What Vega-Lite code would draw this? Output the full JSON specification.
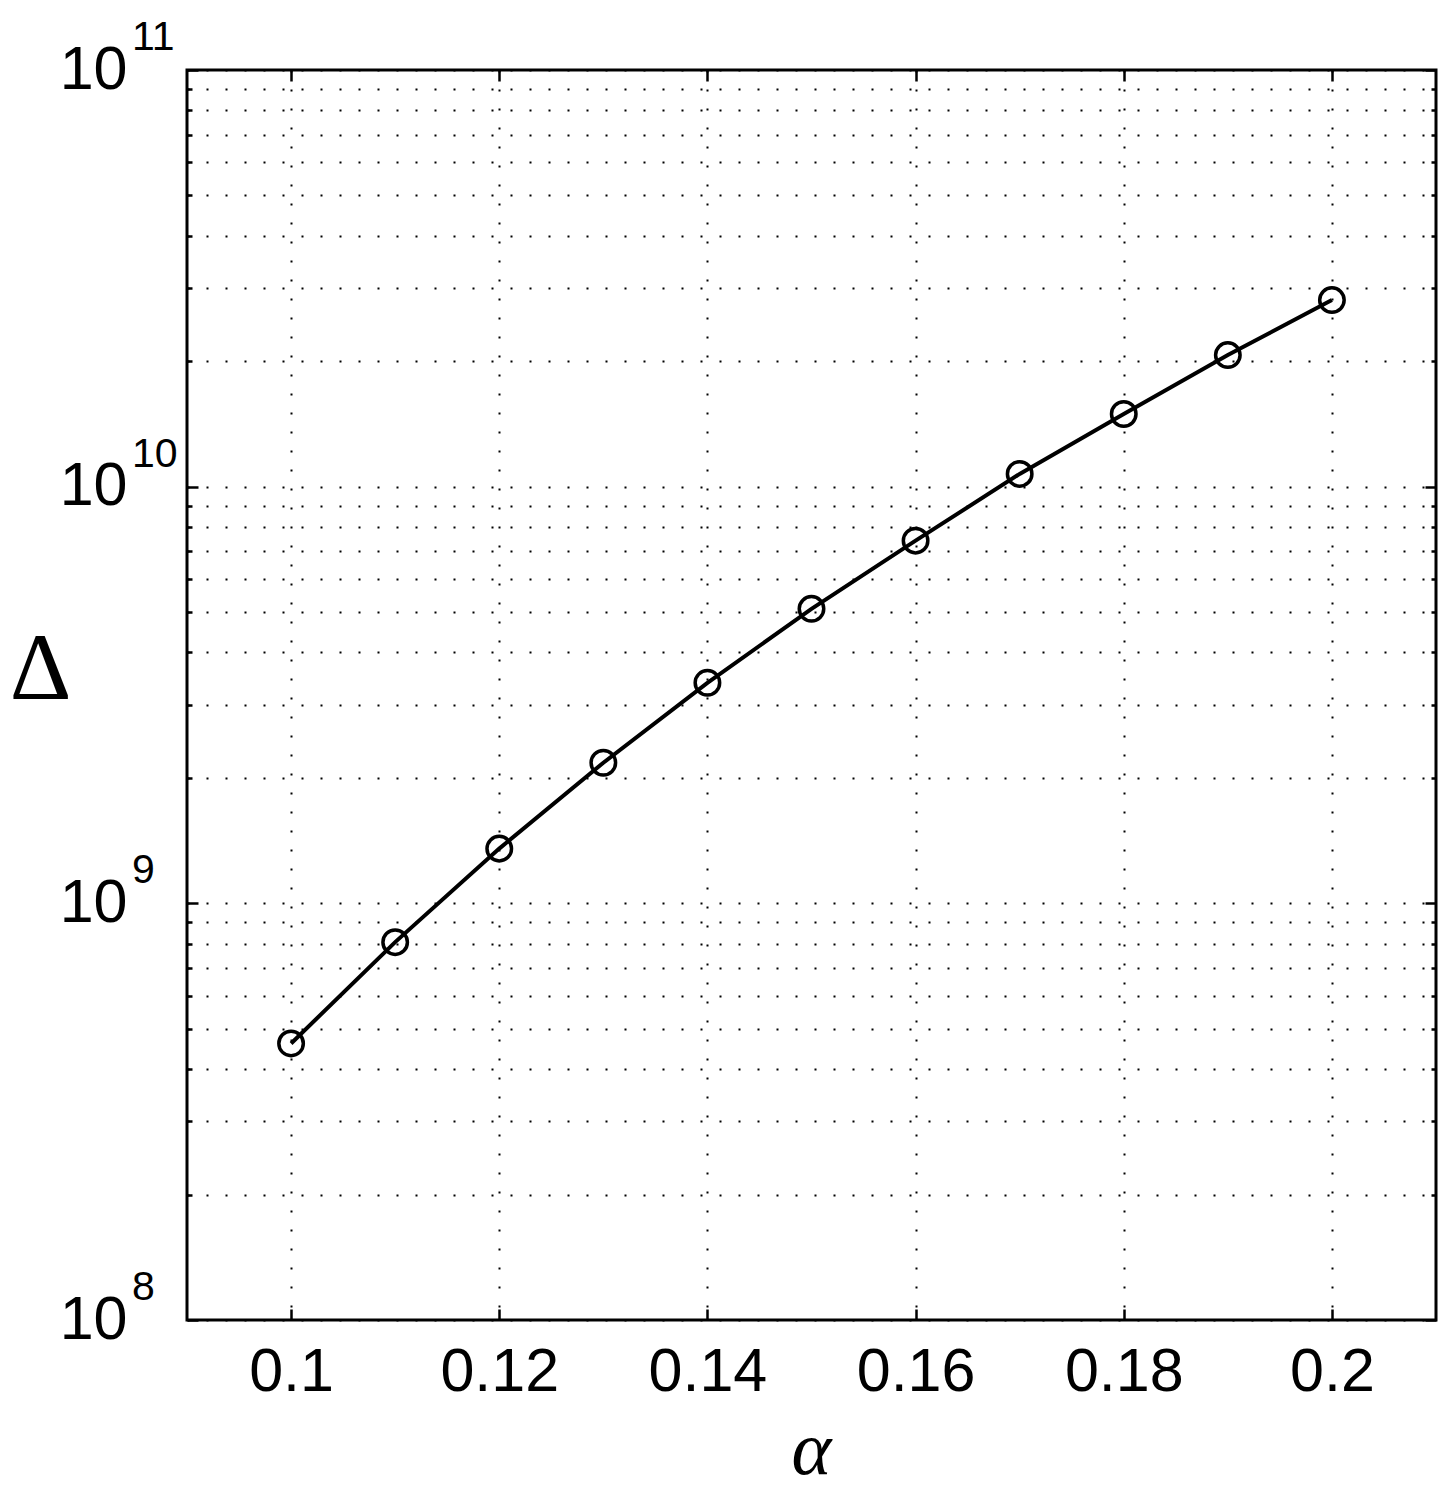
{
  "$schema": "https://vega.github.io/schema/vega-lite/v6.json",
  "autosize": "none",
  "width": 1249,
  "height": 1250,
  "padding": {"left": 187, "top": 70, "right": 18, "bottom": 188},
  "background": "white",
  "config": {
    "view": {"stroke": "#000", "strokeWidth": 3},
    "axis": {
      "labelFont": "Liberation Sans",
      "labelFontSize": 61,
      "labelColor": "#000",
      "tickColor": "#000",
      "tickWidth": 2.5,
      "domain": false,
      "gridColor": "#000",
      "gridWidth": 2,
      "gridDash": [2, 17],
      "gridOpacity": 1
    }
  },
  "datasets": {
    "main": [
      {"alpha": 0.10, "delta": 4.61e8},
      {"alpha": 0.11, "delta": 8.07e8},
      {"alpha": 0.12, "delta": 1.353e9},
      {"alpha": 0.13, "delta": 2.175e9},
      {"alpha": 0.14, "delta": 3.383e9},
      {"alpha": 0.15, "delta": 5.09e9},
      {"alpha": 0.16, "delta": 7.42e9},
      {"alpha": 0.17, "delta": 1.073e10},
      {"alpha": 0.18, "delta": 1.494e10},
      {"alpha": 0.19, "delta": 2.069e10},
      {"alpha": 0.20, "delta": 2.804e10}
    ],
    "exps": [
      {"p": 1e8, "e": "8"},
      {"p": 1e9, "e": "9"},
      {"p": 1e10, "e": "10"},
      {"p": 1e11, "e": "11"}
    ]
  },
  "resolve": {"axis": {"x": "independent", "y": "independent"}},
  "layer": [
    {
      "data": {"name": "main"},
      "mark": {"type": "line", "color": "#000", "strokeWidth": 4},
      "encoding": {
        "x": {
          "field": "alpha", "type": "quantitative",
          "scale": {"domain": [0.09, 0.21], "nice": false, "zero": false},
          "axis": {
            "orient": "bottom",
            "values": [0.1, 0.12, 0.14, 0.16, 0.18, 0.2],
            "labelExpr": "format(datum.value, '.2~f')",
            "grid": true,
            "tickSize": -11,
            "labelPadding": 33,
            "title": "α",
            "titleFont": "Liberation Serif",
            "titleFontStyle": "italic",
            "titleFontWeight": "normal",
            "titleFontSize": 76,
            "titleColor": "#000",
            "titleX": 624,
            "titleY": 153,
            "titleBaseline": "alphabetic",
            "titleAlign": "center"
          }
        },
        "y": {
          "field": "delta", "type": "quantitative",
          "scale": {"type": "log", "domain": [1e8, 1e11], "nice": false},
          "axis": {
            "orient": "left",
            "values": [1e8, 2e8, 3e8, 4e8, 5e8, 6e8, 7e8, 8e8, 9e8, 1e9, 2e9, 3e9, 4e9, 5e9, 6e9, 7e9, 8e9, 9e9, 1e10, 2e10, 3e10, 4e10, 5e10, 6e10, 7e10, 8e10, 9e10, 1e11],
            "labelExpr": "abs(log(datum.value)/LN10 - round(log(datum.value)/LN10)) < 1e-6 ? '10' : ''",
            "grid": true,
            "tickSize": {"condition": {"test": "abs(log(datum.value)/LN10 - round(log(datum.value)/LN10)) < 1e-6", "value": -11}, "value": -5},
            "labelPadding": 71,
            "labelBaseline": "middle",
            "title": "Δ",
            "titleFont": "Liberation Serif",
            "titleFontWeight": "normal",
            "titleFontSize": 96,
            "titleColor": "#000",
            "titleAngle": 0,
            "titleX": -147,
            "titleY": 599,
            "titleAlign": "center",
            "titleBaseline": "middle"
          }
        }
      }
    },
    {
      "data": {"name": "main"},
      "mark": {"type": "point", "shape": "circle", "filled": false, "color": "#000", "strokeWidth": 3.5, "size": 600, "opacity": 1},
      "encoding": {
        "x": {
          "field": "alpha", "type": "quantitative",
          "axis": {
            "orient": "top",
            "values": [0.1, 0.12, 0.14, 0.16, 0.18, 0.2],
            "labels": false,
            "grid": false,
            "tickSize": -11,
            "title": null
          }
        },
        "y": {
          "field": "delta", "type": "quantitative",
          "axis": {
            "orient": "right",
            "values": [1e8, 2e8, 3e8, 4e8, 5e8, 6e8, 7e8, 8e8, 9e8, 1e9, 2e9, 3e9, 4e9, 5e9, 6e9, 7e9, 8e9, 9e9, 1e10, 2e10, 3e10, 4e10, 5e10, 6e10, 7e10, 8e10, 9e10, 1e11],
            "labels": false,
            "grid": false,
            "tickSize": {"condition": {"test": "abs(log(datum.value)/LN10 - round(log(datum.value)/LN10)) < 1e-6", "value": -11}, "value": -5},
            "title": null
          }
        }
      }
    },
    {
      "data": {"name": "exps"},
      "mark": {"type": "text", "font": "Liberation Sans", "fontSize": 41, "color": "#000", "align": "left", "baseline": "alphabetic", "dx": -55, "dy": -20},
      "encoding": {
        "x": {"datum": 0.09, "type": "quantitative", "axis": null},
        "y": {"field": "p", "type": "quantitative", "axis": null},
        "text": {"field": "e"}
      }
    }
  ]
}
